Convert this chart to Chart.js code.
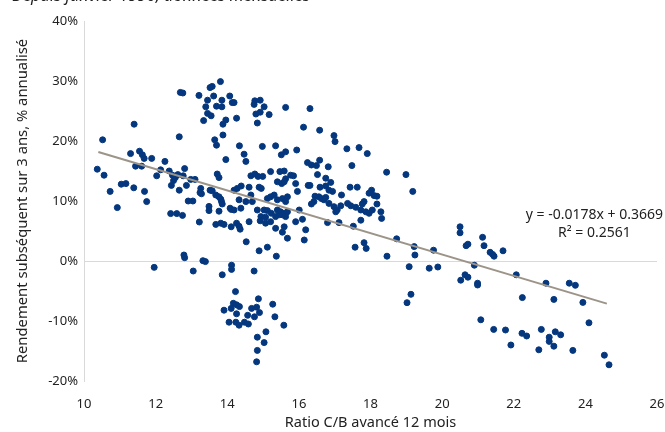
<!DOCTYPE html>
<html lang="fr">
  <head>
    <meta charset="UTF-8" />
    <script src="https://cdn.jsdelivr.net/npm/chart.js"></script>
    <title>Ratio C/B et rendement subséquent</title>
    <style>
      body { margin: 0; background: #fff; }
      #wrap { position: relative; width: 665px; height: 432px; overflow: hidden; }
      #sous-titre {
        position: absolute; left: 12px; top: -17px; line-height: 22px;
        font: italic 16.4px "Noto Sans", sans-serif; color: #222;
      }
    </style>
  </head>
  <body>
    <div id="wrap">
      <div id="sous-titre">Depuis janvier 1990, données mensuelles</div>
      <canvas id="grafico" width="665" height="432"></canvas>
    </div>

    <script>
      // ratio C/B avancé 12 mois
      const ratioCB = [
        12.69, 12.76, 13.21, 13.58, 13.52, 13.81, 13.45, 13.62, 13.85, 14.07, 14.14, 13.40, 13.70, 13.85, 13.45, 13.55,
        13.34, 13.96, 13.88, 11.40, 10.52, 12.66, 13.88, 13.65, 13.70, 13.96, 11.30, 11.55, 11.63, 11.68, 11.89, 12.26,
        11.44, 11.61, 10.37, 10.56, 12.14, 12.38, 12.47, 12.55, 12.62, 12.50, 12.81, 12.03, 12.77, 12.98, 13.10, 13.72,
        13.77, 11.04, 11.17,
        10.73, 11.39, 11.69, 10.93, 11.75, 12.44, 12.66, 12.86, 12.91, 13.04, 13.26, 13.24, 13.28, 13.52, 13.58, 13.68,
        13.77, 13.82, 13.84, 13.86, 13.49, 13.49, 13.77, 14.08, 14.11, 12.42, 12.59, 12.75, 13.22, 13.68, 13.82, 13.91,
        14.11, 12.79, 12.81, 13.32, 13.39, 11.96, 13.05, 13.86, 14.12, 14.12,
        14.77, 14.92, 14.75, 15.03, 14.19, 14.80, 14.92, 15.17, 14.84, 14.26, 15.63, 16.31, 16.13, 16.58, 16.98, 17.01,
        14.34, 14.98, 15.35, 14.47, 14.52, 15.51, 15.63, 15.94, 17.34, 17.68, 17.91, 16.24, 16.35, 16.49, 16.58, 16.82,
        17.48, 16.52, 16.75, 16.89, 15.21, 15.47, 15.59, 14.66, 14.77, 14.86, 14.99, 15.77, 15.85, 15.63, 15.40, 15.52,
        15.91,
        14.39, 14.28, 14.19, 14.61, 14.66, 14.89, 14.95, 15.96, 15.59, 16.26, 16.31, 16.59, 16.75, 16.84, 16.94, 17.19,
        17.43, 17.63, 17.96, 18.03, 18.18, 17.82, 17.77, 18.18, 16.45, 16.56, 16.63, 16.70, 16.75, 16.42, 16.35, 16.84,
        16.98, 17.07, 17.17, 17.03, 17.36, 17.45, 17.59, 17.73, 17.87, 17.96, 18.05, 18.29, 18.31, 17.73, 16.80, 17.12,
        17.52, 14.26, 14.33, 14.36, 14.61, 14.19, 14.38, 14.33, 14.52, 14.70, 14.84, 15.03, 15.12, 14.94, 15.07, 15.23,
        15.12, 15.21, 15.31, 15.40, 15.54, 15.68, 15.63, 15.40, 15.49, 15.59, 15.68, 15.63, 15.54, 15.45, 15.35, 14.92,
        15.07, 15.21, 15.35, 15.59, 15.54, 15.68, 15.91, 16.10, 16.19, 16.01, 16.15, 14.53, 14.89, 15.12, 15.37, 14.75,
        17.57, 17.82, 17.88,
        14.23, 14.87, 14.17, 14.26, 14.34, 14.11, 13.91, 14.68, 14.82, 14.90, 15.27, 15.33, 14.26, 14.57, 14.76, 14.05,
        14.24, 14.33, 14.48, 14.59, 15.58, 15.08, 14.84, 15.03, 14.84, 14.82,
        18.45, 18.99, 19.18, 18.10, 18.73, 18.46, 19.22, 19.24, 19.08, 19.13, 19.02, 19.64, 19.88, 19.76, 20.50, 20.50,
        20.67, 20.72, 20.52, 20.64, 20.72, 20.90, 20.99, 20.99, 21.13, 21.17, 21.34, 21.41, 21.45, 21.70, 21.08, 21.44,
        21.77, 21.92, 22.07, 22.24, 22.23, 22.36, 22.70, 22.77, 22.90, 22.99, 22.99, 23.12, 23.16, 23.12, 23.31, 23.55,
        23.72, 23.65, 23.93, 24.10, 24.53, 24.66
      ];
      // rendement subséquent sur 3 ans, % annualisé
      const rendement = [
        28.1, 28.0, 27.6, 29.1, 28.9, 29.9, 26.8, 27.5, 26.8, 27.5, 26.4, 25.7, 25.8, 25.7, 24.6, 24.2,
        23.4, 23.5, 22.8, 22.8, 20.2, 20.7, 21.0, 20.2, 19.3, 16.9, 17.9, 18.3, 17.7, 17.1, 17.1, 16.6,
        15.8, 15.8, 15.3, 14.3, 15.2, 15.0, 14.3, 13.9, 14.4, 13.4, 15.4, 14.2, 14.2, 13.6, 13.6, 14.5,
        13.9, 12.8, 12.9,
        11.6, 12.2, 11.6, 8.9, 9.9, 12.6, 11.8, 12.6, 10.0, 10.0, 12.1, 11.4, 11.2, 11.8, 11.7, 11.0,
        10.7, 10.3, 9.9, 9.5, 9.1, 8.4, 8.3, 8.8, 8.6, 7.9, 7.9, 7.6, 6.5, 6.1, 6.3, 6.1,
        5.7, 1.0, 0.55, 0.05, -0.1, -1.06, -1.67, -2.3, -0.7, -1.4,
        26.7, 26.8, 26.1, 25.7, 26.4, 24.5, 24.8, 24.4, 23.0, 23.8, 25.6, 25.4, 22.3, 21.8, 20.9, 19.9,
        19.2, 19.1, 19.2, 17.8, 16.6, 17.7, 18.2, 18.5, 18.7, 18.9, 17.9, 16.4, 16.0, 15.9, 16.8, 15.7,
        15.9, 14.4, 13.8, 13.1, 14.9, 14.9, 15.0, 14.2, 14.5, 14.1, 14.1, 14.3, 14.2, 13.7, 13.2, 12.9,
        12.9,
        12.5, 12.1, 11.8, 12.3, 11.0, 12.3, 12.1, 11.6, 13.2, 12.6, 12.6, 12.3, 12.5, 11.8, 11.6, 11.0,
        12.3, 12.3, 11.3, 11.8, 10.8, 9.9, 9.5, 9.5, 10.8, 10.7, 10.4, 10.2, 10.6, 9.9, 9.5, 9.6,
        9.05, 8.5, 9.2, 8.2, 9.6, 9.2, 8.95, 8.5, 8.2, 7.95, 8.5, 8.2, 7.1, 6.8, 6.4, 6.4,
        5.8, 6.3, 5.8, 5.3, 6.55, 8.5, 8.8, 10.2, 9.9, 9.9, 8.5, 8.5, 8.4, 7.4, 7.3, 7.95,
        10.4, 10.7, 11.0, 10.2, 10.4, 10.7, 9.9, 8.5, 8.2, 7.95, 8.2, 7.4, 7.7, 7.7, 7.4, 6.7,
        6.3, 6.55, 5.45, 5.7, 4.8, 3.8, 6.55, 6.95, 5.2, 8.5, 3.5, 3.2, 1.7, 2.3, 0.8, -1.67,
        2.3, 3.05, 2.1,
        -5.1, -6.3, -7.05, -7.3, -7.6, -7.9, -8.2, -7.9, -7.7, -8.6, -7.2, -9.3, -8.8, -9.05, -9.3, -10.2,
        -10.2, -10.7, -10.2, -10.5, -10.7, -11.8, -12.7, -13.6, -14.9, -16.8,
        14.8, 14.4, 11.6, 10.9, 3.7, 0.8, 2.4, 1.0, -0.95, -5.55, -6.95, -1.2, -1.0, 1.8, 5.7, 4.7,
        2.55, 2.8, -3.2, -2.3, -2.7, -0.7, -3.7, -4.0, 3.95, 2.55, 1.45, 1.1, 0.8, 1.7, -9.8, -11.4,
        -11.5, -14.0, -2.3, -6.1, -12.05, -12.5, -14.8, -11.4, -3.7, -12.7, -13.4, -6.4, -11.8, -14.2, -12.3, -3.7,
        -4.05, -14.9, -6.9, -10.3, -15.7, -17.3
      ];
      // droite de tendance (équation affichée)
      const pente = -0.0178;
      const ordonnee = 0.3669;
      const r2 = 0.2561;
      const bornesTendance = [10.4, 24.6];

      const xTicks = [10, 12, 14, 16, 18, 20, 22, 24, 26];
      const yTicks = [-20, -10, 0, 10, 20, 30, 40];

      const points = ratioCB.map((x, i) => ({ x: x, y: rendement[i] }));
      const tendance = bornesTendance.map((x) => ({ x: x, y: (pente * x + ordonnee) * 100 }));

      const texteEquation = {
        id: "texteEquation",
        afterDraw(chart) {
          const c = chart.ctx;
          const xs = chart.scales.x;
          const ys = chart.scales.y;
          c.save();
          c.fillStyle = "#222";
          c.font = '14px "Noto Sans", sans-serif';
          c.textAlign = "center";
          c.textBaseline = "middle";
          const cx = xs.getPixelForValue(24.25);
          c.fillText("y = " + pente + "x + " + ordonnee, cx, ys.getPixelForValue(7.6));
          c.fillText("R² = " + r2, cx, ys.getPixelForValue(4.6));
          c.restore();
        },
      };

      const ctx = document.getElementById("grafico");
      new Chart(ctx, {
        type: "scatter",
        data: {
          datasets: [
            {
              type: "line",
              data: tendance,
              borderColor: "#9c9488",
              borderWidth: 2,
              pointRadius: 0,
              order: 0,
            },
            {
              data: points,
              backgroundColor: "#04377d",
              borderColor: "#04377d",
              pointRadius: 3,
              order: 1,
            },
          ],
        },
        options: {
          responsive: false,
          animation: false,
          events: [],
          layout: { padding: { top: 21, right: 8, left: 0, bottom: 0 } },
          plugins: { legend: { display: false }, tooltip: { enabled: false } },
          scales: {
            x: {
              type: "linear",
              min: 10,
              max: 26,
              afterBuildTicks: (s) => { s.ticks = xTicks.map((v) => ({ value: v })); },
              grid: { display: false },
              border: { display: false },
              ticks: { color: "#222", font: { size: 13, family: "Noto Sans" }, padding: 7 },
              title: {
                display: true,
                text: "Ratio C/B avancé 12 mois",
                color: "#222",
                font: { size: 14.5, family: "Noto Sans" },
                padding: { top: 0, bottom: 0 },
              },
              afterFit: (s) => { s.height = 51; s.paddingRight = 0; s.paddingLeft = 0; },
            },
            y: {
              min: -20,
              max: 40,
              afterBuildTicks: (s) => { s.ticks = yTicks.map((v) => ({ value: v })); },
              grid: {
                color: (c) => (c.tick && c.tick.value === 0 ? "#d9d9d9" : "rgba(0,0,0,0)"),
                drawTicks: false,
              },
              border: { display: true, color: "#d9d9d9" },
              ticks: {
                color: "#222",
                font: { size: 13, family: "Noto Sans" },
                padding: 6,
                callback: (v) => v + "%",
              },
              title: {
                display: true,
                text: "Rendement subséquent sur 3 ans, % annualisé",
                color: "#222",
                font: { size: 14.8, family: "Noto Sans" },
                padding: { top: 14, bottom: 0 },
              },
              afterFit: (s) => { s.width = 84; },
            },
          },
        },
        plugins: [texteEquation],
      });
    </script>
  </body>
</html>
